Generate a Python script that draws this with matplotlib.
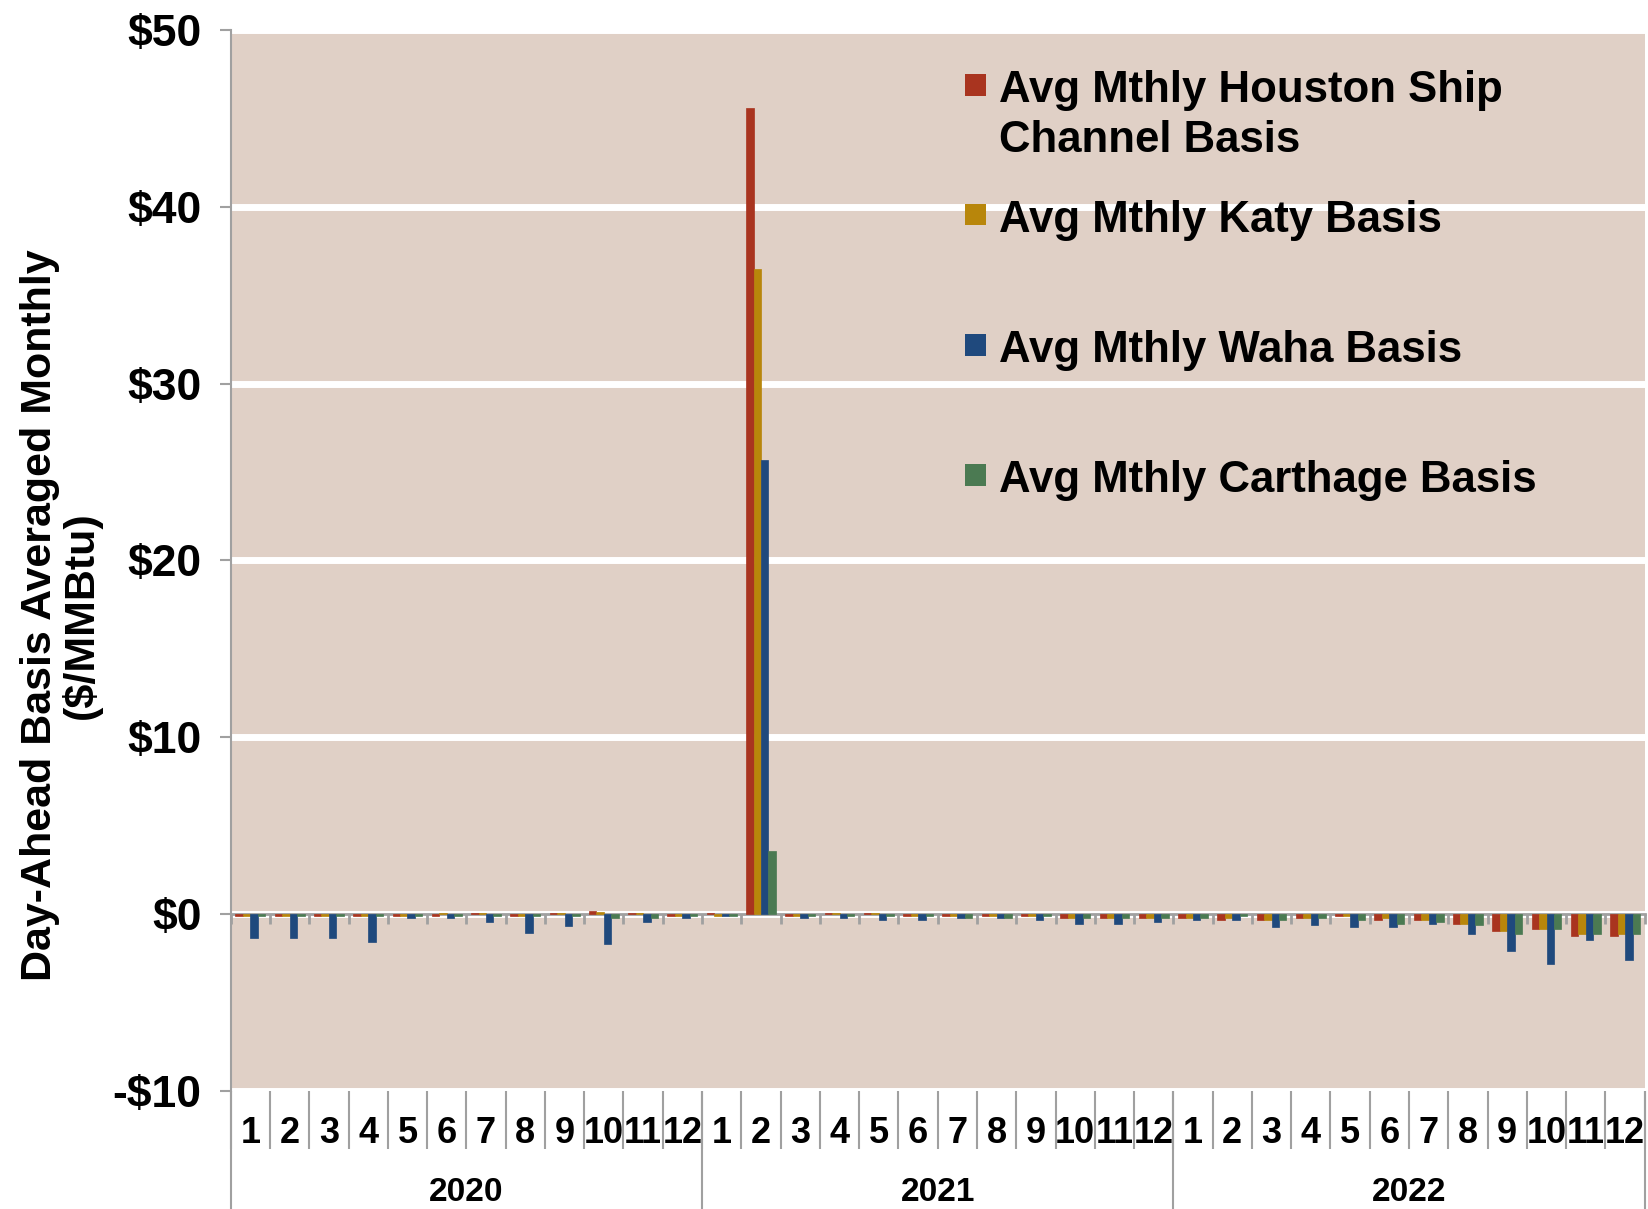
import matplotlib
matplotlib.use("Agg")
import matplotlib.pyplot as plt
import numpy as np
from matplotlib.patches import Rectangle

years = ["2020", "2021", "2022"]
months = [str(m) for m in range(1, 13)] * 3

houston = [-0.1, -0.1, -0.1, -0.1, -0.1, -0.1, 0.05, -0.1, 0.05, 0.15, 0.05, -0.13,
           0.05, 45.6, -0.13, 0.05, 0.05, -0.13, -0.13, -0.13, -0.13, -0.25, -0.25, -0.25,
           -0.25, -0.36, -0.36, -0.25, -0.1, -0.36, -0.36, -0.55, -0.96, -0.87, -1.26, -1.26]
katy = [-0.1, -0.1, -0.1, -0.1, -0.1, 0.05, 0.05, -0.1, 0.05, 0.12, 0.05, -0.13,
        -0.13, 36.5, -0.13, 0.05, 0.05, -0.13, -0.13, -0.1, -0.13, -0.25, -0.25, -0.25,
        -0.25, -0.25, -0.36, -0.25, -0.1, -0.25, -0.36, -0.55, -0.96, -0.87, -1.17, -1.17]
waha = [-1.38, -1.38, -1.38, -1.58, -0.26, -0.26, -0.45, -1.07, -0.68, -1.7, -0.45, -0.25,
        -0.13, 25.7, -0.25, -0.25, -0.36, -0.36, -0.25, -0.25, -0.36, -0.57, -0.57, -0.47,
        -0.36, -0.36, -0.77, -0.66, -0.77, -0.77, -0.55, -1.17, -2.09, -2.83, -1.47, -2.62]
carthage = [-0.1, -0.1, -0.1, -0.1, -0.1, -0.1, -0.1, -0.1, -0.1, -0.25, -0.25, -0.13,
            -0.13, 3.55, -0.13, -0.13, -0.13, -0.13, -0.25, -0.25, -0.13, -0.25, -0.25, -0.25,
            -0.25, -0.1, -0.36, -0.25, -0.36, -0.55, -0.45, -0.66, -1.17, -0.87, -1.17, -1.17]

series = [
    ("Avg Mthly Houston Ship\nChannel Basis", houston, "#A9341F"),
    ("Avg Mthly Katy Basis", katy, "#B8860B"),
    ("Avg Mthly Waha Basis", waha, "#1F497D"),
    ("Avg Mthly Carthage Basis", carthage, "#4B7A52"),
]

yticks = [-10, 0, 10, 20, 30, 40, 50]
ylabels = ["-$10", "$0", "$10", "$20", "$30", "$40", "$50"]

bg = "#E0D0C6"
axis_gray = "#A0A0A0"
plt.rcParams["font.family"] = ["Liberation Sans", "DejaVu Sans"]
plt.rcParams["font.weight"] = "bold"

fig = plt.figure(figsize=(16.48, 12.09), dpi=100)
ax = fig.add_axes([0.140, 0.098, 0.858, 0.877])
ax.set_facecolor(bg)

n = len(houston)
x = np.arange(n)
w = 0.19
for i, (name, vals, col) in enumerate(series):
    ax.bar(x + (i - 1.5) * w, vals, width=w, color=col, zorder=3,
           edgecolor=col, linewidth=0.5)

ax.set_xlim(-0.5, n - 0.5)
ax.set_ylim(-10, 50)
ax.set_yticks(yticks, ylabels, fontsize=32, fontweight="bold")
ax.yaxis.grid(True, color="white", linewidth=5, zorder=1)
ax.set_axisbelow(True)
ax.tick_params(axis="y", direction="out", length=8, width=1.5, color=axis_gray, pad=13)

for s in ["top", "right", "bottom"]:
    ax.spines[s].set_visible(False)
ax.spines["left"].set_color(axis_gray)
ax.spines["left"].set_linewidth(1.5)

# month separators + month labels
bounds = np.arange(n + 1) - 0.5
ax.set_xticks(bounds, [""] * len(bounds))
ax.tick_params(axis="x", which="major", direction="out", length=42, width=1.5, color=axis_gray)
ax.set_xticks(x, months, minor=True)
ax.tick_params(axis="x", which="minor", length=0, pad=18)
for lab in ax.get_xticklabels(minor=True):
    lab.set_fontsize(26)
    lab.set_fontweight("bold")

# year separators + year labels
sec = ax.secondary_xaxis("bottom")
sec.spines["bottom"].set_visible(False)
sec.set_xticks(bounds[::12], [""] * len(bounds[::12]))
sec.tick_params(axis="x", which="major", direction="out", length=86, width=1.5, color=axis_gray)
sec.set_xticks(x[::12] + 5.5, years, minor=True)
sec.tick_params(axis="x", which="minor", length=0, pad=62)
for lab in sec.get_xticklabels(minor=True):
    lab.set_fontsize(24)
    lab.set_fontweight("bold")

# zero line with month boundary ticks
ymin, ymax = ax.get_ylim()
zero = ax.secondary_xaxis((0 - ymin) / (ymax - ymin))
zero.set_zorder(2.5)
zero.spines["bottom"].set_color(axis_gray)
zero.spines["bottom"].set_linewidth(2)
zero.set_xticks(bounds, [""] * len(bounds))
zero.tick_params(axis="x", direction="out", length=7, width=2, color=axis_gray)

# legend
leg_y = [0.943, 0.821, 0.698, 0.575]
for (name, vals, col), ly in zip(series, leg_y):
    ax.add_patch(Rectangle((0.519, ly - 0.005), 0.0148, 0.0205, transform=ax.transAxes,
                           facecolor=col, edgecolor="none", zorder=5))
    lines = name.split("\n")
    for k, line in enumerate(lines):
        ax.text(0.543, ly - 0.047 * k, line, transform=ax.transAxes, fontsize=31.5,
                fontweight="bold", va="center", ha="left", zorder=5)

fig.text(0.037, 0.491, "Day-Ahead Basis Averaged Monthly\n($/MMBtu)", rotation=90,
         ha="center", va="center", multialignment="center", fontsize=31,
         fontweight="bold", linespacing=1.0)

fig.savefig("out.png", dpi=100)
